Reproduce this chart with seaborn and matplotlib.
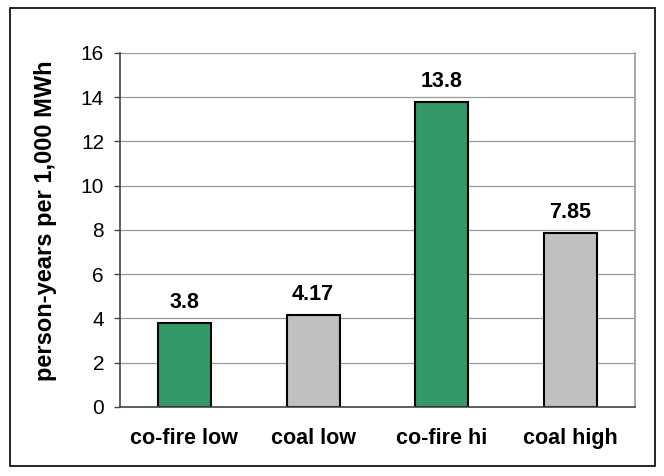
import numpy as np
import pandas as pd
import seaborn as sns
from matplotlib import pyplot as plt
from matplotlib.patches import Rectangle

categories = ['co-fire low', 'coal low', 'co-fire hi', 'coal high']
values = [3.8, 4.17, 13.8, 7.85]
labels = ['3.8', '4.17', '13.8', '7.85']
bar_colors = ['#339966', '#C0C0C0', '#339966', '#C0C0C0']

df = pd.DataFrame({'cat': categories, 'val': values})

sns.set_style('white')
plt.rcParams['font.family'] = ['Liberation Sans', 'DejaVu Sans']
plt.rcParams['text.color'] = 'black'
plt.rcParams['xtick.color'] = 'black'
plt.rcParams['ytick.color'] = 'black'
plt.rcParams['axes.labelcolor'] = 'black'

fig = plt.figure(figsize=(6.64, 4.76), dpi=100)
ax = fig.add_axes([0.1807, 0.1450, 0.9563 - 0.1807, 0.8887 - 0.1450])

sns.barplot(data=df, x='cat', y='val', hue='cat', palette=bar_colors,
            legend=False, width=0.41, edgecolor='black', linewidth=1.5,
            saturation=1, ax=ax)

ax.set_xlim(-0.5, 3.5)
ax.set_ylim(0, 16)
ax.set_yticks(np.arange(0, 17, 2))
ax.yaxis.grid(True, color='#999999', linewidth=0.9)
ax.set_axisbelow(True)

# category boundary ticks + centered labels
ax.set_xticks(np.arange(-0.5, 4, 1))
ax.set_xticklabels([])
ax.set_xticks(range(4), minor=True)
ax.set_xticklabels(categories, minor=True, fontsize=15.5, fontweight='bold')
ax.tick_params(axis='x', which='major', length=5, width=1, color='#444444', direction='out')
ax.tick_params(axis='x', which='minor', length=0, pad=15)
ax.tick_params(axis='y', length=4.5, width=1, color='#444444', direction='out',
               labelsize=15, pad=7, left=True)

for s in ['left', 'bottom']:
    ax.spines[s].set_color('#444444')
    ax.spines[s].set_linewidth(1.2)
ax.spines['top'].set_visible(False)
ax.spines['right'].set_color('#999999')
ax.spines['right'].set_linewidth(1.2)

for i, (v, t) in enumerate(zip(values, labels)):
    ax.text(i, v + 0.45, t, ha='center', va='bottom', fontsize=15.5, fontweight='bold')

ax.set_xlabel('')
ax.set_ylabel('person-years per 1,000 MWh', fontsize=17, fontweight='bold')
ax.yaxis.set_label_coords(-0.122, 0.525)

fig.patches.append(Rectangle((10 / 664, 1 - 466 / 476), 645 / 664, 458 / 476,
                             transform=fig.transFigure, fill=False,
                             edgecolor='black', linewidth=1.2))

fig.savefig('out.png', dpi=100)
